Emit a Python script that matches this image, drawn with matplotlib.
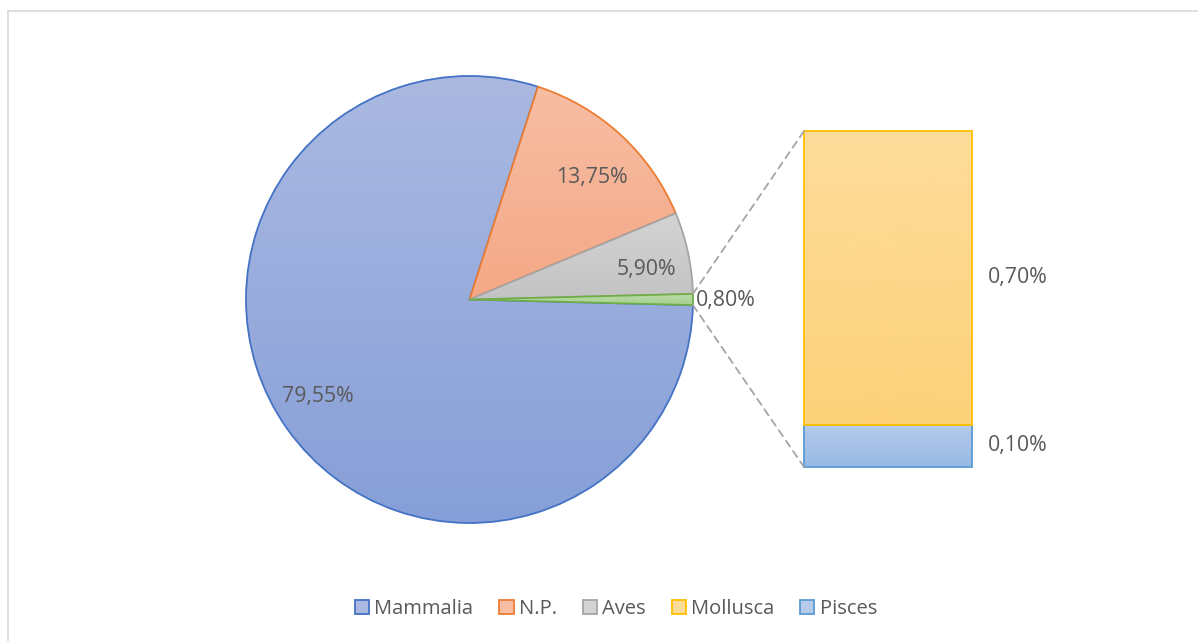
import numpy as np
import matplotlib
matplotlib.use('Agg')
import matplotlib.pyplot as plt
from matplotlib.colors import LinearSegmentedColormap
from matplotlib.patches import ConnectionPatch, Patch
from matplotlib.lines import Line2D

# pie data (the last slice is split into the bar on the right)
pie_labels = ['Mammalia', 'N.P.', 'Aves', 'Other']
pie_values = [79.55, 13.75, 5.90, 0.80]
bar_labels = ['Pisces', 'Mollusca']
bar_values = [0.10, 0.70]
legend_names = ['Mammalia', 'N.P.', 'Aves', 'Mollusca', 'Pisces']

# colours: (gradient top, gradient bottom, edge)
pie_colors = {
    'Mammalia': ('#abb9e1', '#869fd8', '#4472c4'),
    'N.P.': ('#f7bea4', '#f4a886', '#ed7d31'),
    'Aves': ('#d4d4d4', '#c3c3c3', '#a5a5a5'),
    'Other': ('#bcdcab', '#a6d08f', '#70ad47'),
}
bar_colors = {
    'Mollusca': ('#fddc9b', '#fdd27a', '#ffc000'),
    'Pisces': ('#b4cbea', '#98b9e5', '#5b9bd5'),
}
text_color = '#595959'
font = 'Open Sans'
fsize = 15.3
legend_size = 14.5

W, H = 1198, 641
fig = plt.figure(figsize=(W / 100, H / 100), dpi=100)

# chart border (only top and left visible)
fig.add_artist(Line2D([8 / W, 8 / W], [0, 1 - 11 / H], color='#d9d9d9', lw=1.2))
fig.add_artist(Line2D([8 / W, 1], [1 - 11 / H, 1 - 11 / H], color='#d9d9d9', lw=1.2))


def gradient_fill(ax, patch, top, bottom, z):
    ext = patch.get_path().get_extents(patch.get_transform() - ax.transData)
    cmap = LinearSegmentedColormap.from_list('g', [bottom, top])
    grad = np.linspace(0, 1, 256).reshape(-1, 1)
    im = ax.imshow(grad, cmap=cmap, origin='lower', aspect='auto',
                   extent=[ext.x0, ext.x1, ext.y0, ext.y1], zorder=z)
    im.set_clip_path(patch)


def pct(v):
    return f'{v:.2f}'.replace('.', ',') + '%'


# pie
cx, cy, r = 469.5, 299.5, 223.5
ax_pie = fig.add_axes([(cx - r) / W, (H - cy - r) / H, 2 * r / W, 2 * r / H])
start = -pie_values[-1] / 100 * 360 / 2
# order counterclockwise: Other, Aves, N.P., Mammalia
order = [3, 2, 1, 0]
wedges, _ = ax_pie.pie([pie_values[i] for i in order], startangle=start, counterclock=True,
                       radius=1, wedgeprops=dict(linewidth=1.3))
for w, i in zip(wedges, order):
    top, bot, edge = pie_colors[pie_labels[i]]
    w.set_facecolor('none')
    w.set_edgecolor(edge)
    w.set_zorder(2 * i + 2)
    gradient_fill(ax_pie, w, top, bot, 2 * i + 1)
ax_pie.set_xlim(-1, 1)
ax_pie.set_ylim(-1, 1)
ax_pie.set_aspect('auto')
ax_pie.axis('off')

# pie labels (positions in pie units)
label_pos = {'Mammalia': (-0.68, -0.435), 'N.P.': (0.546, 0.545), 'Aves': (0.793, 0.135)}
for name, (lx, ly) in label_pos.items():
    v = pie_values[pie_labels.index(name)]
    ax_pie.text(lx, ly, pct(v), ha='center', va='center',
                fontsize=fsize, color=text_color, family=font, zorder=20)
ax_pie.text(1.015, -0.005, pct(pie_values[3]), ha='left', va='center',
            fontsize=fsize, color=text_color, family=font, zorder=20, clip_on=False)

# bar of the split slice
bx0, bx1, by0, by1 = 804, 972, 131, 467
ax_bar = fig.add_axes([bx0 / W, (H - by1) / H, (bx1 - bx0) / W, (by1 - by0) / H])
bottom = 0
for k, (name, v) in enumerate(zip(bar_labels, bar_values)):
    top, bot, edge = bar_colors[name]
    rect = ax_bar.bar(0, v, width=1, bottom=bottom, facecolor='none', edgecolor=edge,
                      linewidth=1.3, zorder=2 * k + 2, clip_on=False)[0]
    gradient_fill(ax_bar, rect, top, bot, 2 * k + 1)
    ax_bar.text(0.595, bottom + v / 2, pct(v), ha='left', va='center',
                fontsize=fsize, color=text_color, family=font, clip_on=False)
    bottom += v
ax_bar.set_xlim(-0.5, 0.5)
ax_bar.set_ylim(0, sum(bar_values))
ax_bar.axis('off')

# dashed connectors
half = np.deg2rad(pie_values[-1] / 100 * 360 / 2)
for sgn, yb in [(1, sum(bar_values)), (-1, 0)]:
    con = ConnectionPatch(xyA=(np.cos(half), sgn * np.sin(half)), coordsA=ax_pie.transData,
                          xyB=(-0.5, yb), coordsB=ax_bar.transData,
                          color='#a5a5a5', lw=1.3, linestyle=(0, (4, 3)))
    fig.add_artist(con)

# legend
handles = []
for name in legend_names:
    top, bot, edge = pie_colors.get(name, bar_colors.get(name))
    handles.append(Patch(facecolor=top, edgecolor=edge, linewidth=1.3, label=name))
fig.legend(handles=handles, loc='center', bbox_to_anchor=(616 / W, 1 - 609 / H), ncol=5,
           frameon=False, handlelength=0.7, handleheight=0.7, handletextpad=0.25,
           columnspacing=1.3, prop={'family': font, 'size': legend_size}, labelcolor=text_color)

fig.savefig('out.png', dpi=100, facecolor='white')
